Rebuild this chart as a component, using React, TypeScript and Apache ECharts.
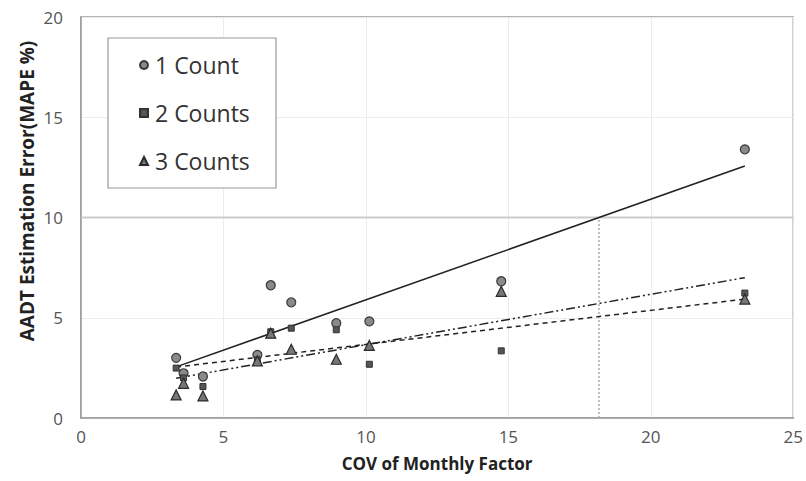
import React, { useEffect, useRef } from "react";
import * as echarts from "echarts";

// COV of monthly factor (shared x values)
const covValues = [3.34, 3.6, 4.28, 6.19, 6.66, 7.38, 8.96, 10.12, 14.75, 23.3];
// MAPE % per number of counts
const count1 = [3.0, 2.23, 2.07, 3.15, 6.62, 5.77, 4.73, 4.82, 6.82, 13.4];
const count2 = [2.49, 2.0, 1.57, 2.9, 4.3, 4.48, 4.4, 2.68, 3.35, 6.23];
const count3 = [1.15, 1.73, 1.1, 2.85, 4.23, 3.43, 2.93, 3.62, 6.32, 5.93];
// trend line endpoints [x, y]
const trend1 = [[3.34, 2.55], [23.3, 12.57]];
const trend2 = [[3.34, 2.54], [23.3, 5.93]];
const trend3 = [[3.34, 1.98], [23.3, 7.0]];
// reference lines
const refHorizontal = [[0, 10], [25, 10]];
const refVertical = [[18.18, 0], [18.18, 10]];
const xTicks = { min: 0, max: 25, interval: 5 };
const yTicks = { min: 0, max: 20, interval: 5 };

const FONT = '"Open Sans", "DejaVu Sans", sans-serif';

export default function App() {
  const ref = useRef<HTMLDivElement>(null);
  useEffect(() => {
    document.body.style.margin = "0";
    if (!ref.current) return;
    const chart = echarts.init(ref.current, null, { renderer: "svg" });
    const pts = (ys: number[]) => covValues.map((x, i) => [x, ys[i]]);
    chart.setOption({
      animation: false,
      backgroundColor: "#ffffff",
      grid: {
        left: 81,
        right: 9,
        top: 17,
        bottom: 63,
        show: true,
        borderColor: "#9a9a9a",
        borderWidth: 1.5,
      },
      xAxis: {
        type: "value",
        ...xTicks,
        name: "COV of Monthly Factor",
        nameLocation: "middle",
        nameGap: 37,
        nameTextStyle: { fontFamily: FONT, fontWeight: "bold", fontSize: 17, color: "#222" },
        axisLine: { show: true, lineStyle: { color: "#9a9a9a", width: 1.5 } },
        axisTick: { show: false },
        axisLabel: { fontFamily: FONT, fontSize: 17, color: "#555", margin: 10 },
        splitLine: { show: true, lineStyle: { color: "#ececec", width: 1 } },
      },
      yAxis: {
        type: "value",
        ...yTicks,
        axisLine: { show: true, lineStyle: { color: "#9a9a9a", width: 1.5 } },
        axisTick: { show: false },
        axisLabel: { fontFamily: FONT, fontSize: 17, color: "#555", margin: 18 },
        splitLine: { show: true, lineStyle: { color: "#ececec", width: 1 } },
      },
      legend: {
        orient: "vertical",
        left: 134,
        top: 44,
        itemGap: 16,
        itemWidth: 8,
        itemHeight: 8,
        data: ["1 Count", "2 Counts", "3 Counts"],
        textStyle: { fontFamily: FONT, fontSize: 23, lineHeight: 32, color: "#333", padding: [0, 0, 0, 2] },
        z: 10,
      },
      graphic: [
        {
          type: "rect",
          shape: { x: 108, y: 38, width: 168, height: 150 },
          style: { fill: "#ffffff", stroke: "#999999", lineWidth: 1.2 },
          z: 8,
        },
        {
          type: "text",
          x: 27,
          y: 191,
          rotation: Math.PI / 2,
          style: {
            text: "AADT Estimation Error(MAPE %)",
            font: `bold 19px ${FONT}`,
            fill: "#222",
            align: "center",
            verticalAlign: "middle",
            textAlign: "center",
            textVerticalAlign: "middle",
          },
        },
      ],
      series: [
        {
          name: "ref10",
          type: "line",
          data: refHorizontal,
          symbol: "none",
          lineStyle: { color: "#cccccc", width: 2 },
          z: 1,
          silent: true,
        },
        {
          name: "refv",
          type: "line",
          data: refVertical,
          symbol: "none",
          lineStyle: { color: "#aaaaaa", width: 1.5, type: [2, 2] },
          z: 1,
          silent: true,
        },
        {
          name: "trend1",
          type: "line",
          data: trend1,
          symbol: "none",
          lineStyle: { color: "#222", width: 1.5, type: "solid" },
          z: 3,
        },
        {
          name: "trend2",
          type: "line",
          data: trend2,
          symbol: "none",
          lineStyle: { color: "#222", width: 1.5, type: [5, 4] },
          z: 3,
        },
        {
          name: "trend3",
          type: "line",
          data: trend3,
          symbol: "none",
          lineStyle: { color: "#222", width: 1.5, type: [9, 3, 2, 3, 2, 3] },
          z: 3,
        },
        {
          name: "1 Count",
          type: "scatter",
          data: pts(count1),
          symbol: "circle",
          symbolSize: 9,
          itemStyle: { color: "#8a8a8a", borderColor: "#3a3a3a", borderWidth: 1.2, opacity: 1 },
          z: 4,
        },
        {
          name: "2 Counts",
          type: "scatter",
          data: pts(count2),
          symbol: "rect",
          symbolSize: 6,
          itemStyle: { color: "#555555", borderColor: "#333333", borderWidth: 1, opacity: 1 },
          z: 5,
        },
        {
          name: "3 Counts",
          type: "scatter",
          data: pts(count3),
          symbol: "triangle",
          symbolSize: 10,
          itemStyle: { color: "#777777", borderColor: "#2a2a2a", borderWidth: 1.2, opacity: 1 },
          z: 5,
        },
      ],
    });
    return () => chart.dispose();
  }, []);
  return <div ref={ref} style={{ width: 806, height: 481 }} />;
}
